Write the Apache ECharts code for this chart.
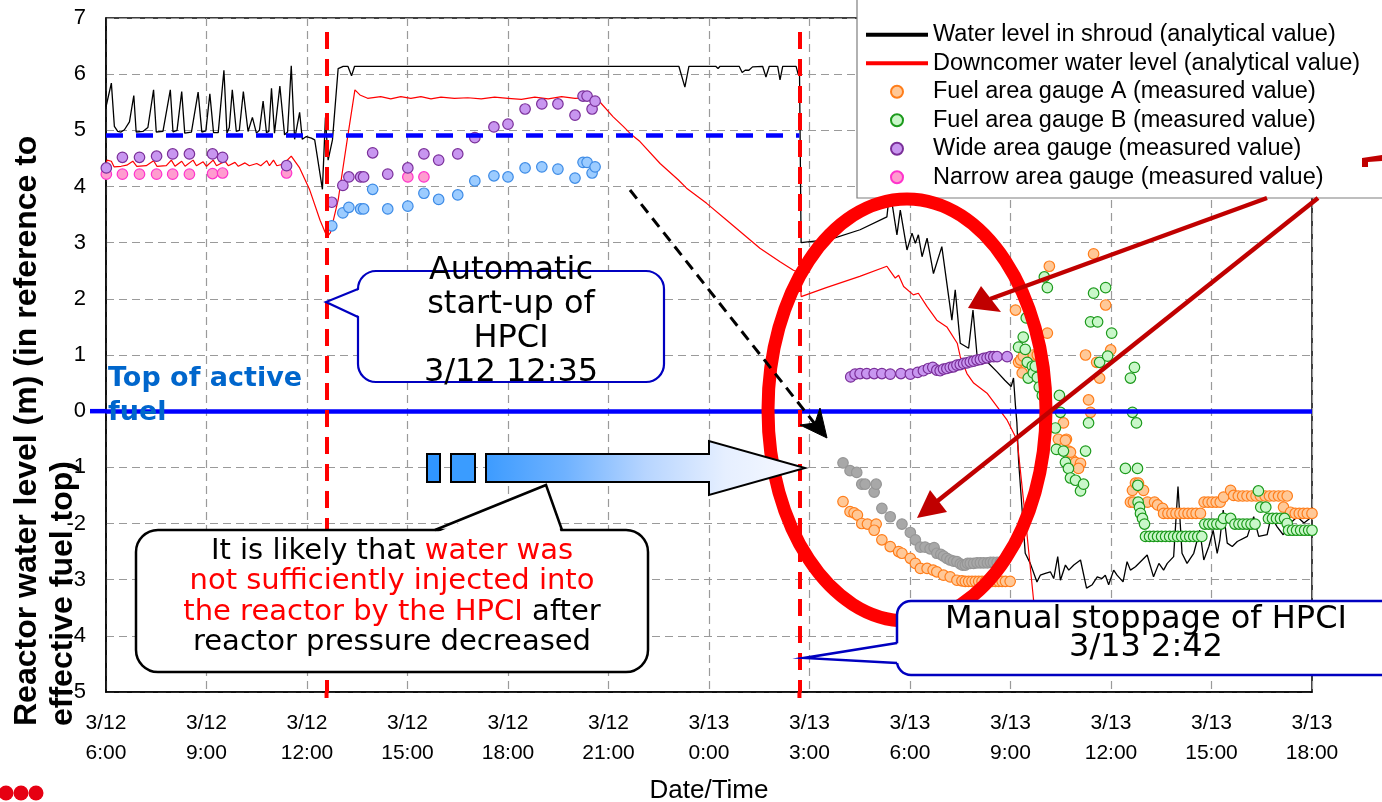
<!DOCTYPE html>
<html>
<head>
<meta charset="utf-8">
<title>Reactor water level, 3/12 6:00 – 3/13 18:00</title>
<script src="https://cdn.jsdelivr.net/npm/echarts@6/dist/echarts.min.js"></script>
<style>
  html, body { margin: 0; padding: 0; background: #ffffff; }
  #chart { width: 1382px; height: 802px; }
</style>
</head>
<body>
<div id="chart"></div>
<script>
// Time is counted in hours from 3/12 0:00; levels are metres above the top of active fuel.

const xTickLabels = [
  '3/12\n6:00', '3/12\n9:00', '3/12\n12:00', '3/12\n15:00', '3/12\n18:00', '3/12\n21:00',
  '3/13\n0:00', '3/13\n3:00', '3/13\n6:00', '3/13\n9:00', '3/13\n12:00', '3/13\n15:00', '3/13\n18:00'
];

const hpciStart = 12 + 35 / 60;      // 3/12 12:35
const hpciStop = 24 + 2 + 42 / 60;   // 3/13 2:42
const tafLevel = 0;                  // top of active fuel
const dashedLevel = 4.92;            // blue dashed reference level

// Water level in shroud (analytical value)
const shroudLevel = [
  [6.0,5.42],[6.16,5.84],[6.25,5.07],[6.35,4.98],[6.45,4.97],[6.55,5.01],[6.7,5.15],[6.83,5.62],[6.9,4.97],
  [7.1,4.98],[7.25,5.05],[7.42,5.72],[7.5,4.97],[7.7,4.98],[7.92,5.72],[8.0,4.97],[8.12,5.0],[8.26,5.69],
  [8.35,4.95],[8.55,4.97],[8.75,5.68],[8.86,4.97],[8.98,4.99],[9.1,5.65],[9.21,4.96],[9.35,4.96],[9.52,6.07],
  [9.61,4.95],[9.68,5.05],[9.77,5.72],[9.89,4.98],[9.98,5.0],[10.1,5.69],[10.24,4.98],[10.37,5.23],[10.49,4.95],
  [10.58,5.0],[10.69,5.52],[10.79,4.96],[10.86,4.98],[10.94,5.75],[11.03,4.95],[11.19,5.79],[11.33,4.92],
  [11.42,4.97],[11.53,6.15],[11.63,4.84],[11.78,5.32],[11.86,4.84],[11.98,4.89],[12.13,4.86],[12.23,4.83],
  [12.46,3.95],[12.55,5.23],[12.63,4.47],[12.76,4.83],[12.93,6.1],[13.08,6.14],[13.22,6.14],[13.33,5.97],
  [13.42,6.14],[23.1,6.14],[23.28,5.77],[23.4,6.14],[24.2,6.14],[24.27,6.1],[24.33,6.14],[24.9,6.14],
  [24.99,6.03],[25.08,6.07],[25.19,6.07],[25.3,6.13],[25.6,6.14],[25.7,5.95],[25.8,6.14],[26.05,6.14],
  [26.12,5.9],[26.2,6.14],[26.6,6.14],[26.66,6.0],[26.7,6.14],[26.73,6.12],[26.75,3.0],[27.62,3.06],
  [28.51,3.23],[29.31,3.46],[29.4,3.95],[29.61,3.14],[29.71,3.58],[29.91,2.87],[30.06,3.17],[30.16,2.99],
  [30.25,3.14],[30.36,2.75],[30.51,3.08],[30.7,2.45],[30.95,2.93],[31.25,1.62],[31.35,2.16],[31.5,1.21],
  [31.75,1.12],[31.88,1.8],[32.0,1.0],[32.3,0.88],[32.6,0.7],[32.83,0.55],[33.02,0.44],[33.09,0.59],
  [33.15,0.08],[33.19,-0.2],[33.24,-0.87],[33.44,-2.53],[33.59,-2.71],[33.79,-3.04],[33.89,-2.92],
  [34.04,-2.89],[34.19,-2.86],[34.29,-2.98],[34.41,-2.59],[34.49,-3.01],[34.64,-2.74],[34.74,-2.83],
  [34.89,-2.74],[35.09,-2.65],[35.27,-3.15],[35.44,-3.09],[35.59,-2.95],[35.73,-2.98],[35.83,-2.92],
  [35.93,-3.09],[36.08,-2.83],[36.18,-2.92],[36.36,-3.04],[36.48,-2.68],[36.58,-2.83],[36.73,-2.77],
  [36.88,-2.68],[37.08,-2.56],[37.27,-2.95],[37.43,-2.71],[37.57,-2.83],[37.68,-2.71],[37.87,-2.59],
  [38.0,-1.34],[38.12,-2.53],[38.27,-2.71],[38.47,-2.53],[38.65,-2.12],[38.77,-2.65],[38.92,-2.41],
  [39.05,-2.12],[39.17,-2.53],[39.25,-2.29],[39.35,-1.76],[39.47,-2.35],[39.62,-2.41],[39.77,-2.32],
  [40.07,-2.23],[40.26,-1.88],[40.41,-2.23],[40.66,-2.2],[40.78,-1.88],[40.96,-2.06],[41.14,-2.2],
  [41.36,-1.99],[41.56,-1.88],[41.76,-1.99],[42.0,-1.88]
];

// Downcomer water level (analytical value)
const downcomerLevel = [
  [6.0,4.4],[6.03,4.47],[6.16,4.45],[6.24,4.35],[6.45,4.36],[6.62,4.38],[6.8,4.45],[6.92,4.36],[7.2,4.37],
  [7.42,4.46],[7.52,4.36],[7.8,4.37],[7.95,4.47],[8.06,4.36],[8.26,4.45],[8.36,4.36],[8.6,4.47],[8.7,4.37],
  [8.9,4.44],[9.0,4.36],[9.2,4.47],[9.3,4.37],[9.55,4.45],[9.65,4.37],[9.85,4.43],[9.95,4.36],[10.15,4.42],
  [10.28,4.37],[10.5,4.41],[10.62,4.37],[10.8,4.46],[10.88,4.37],[11.0,4.47],[11.1,4.37],[11.3,4.4],
  [11.53,4.54],[11.78,4.33],[12.08,3.94],[12.39,3.4],[12.6,3.1],[12.7,3.18],[12.93,3.76],[13.2,4.83],
  [13.43,5.72],[13.58,5.63],[13.81,5.57],[14.2,5.6],[14.5,5.56],[14.8,5.6],[15.1,5.57],[15.4,5.6],
  [15.7,5.56],[16.0,5.59],[16.4,5.57],[16.8,5.58],[17.2,5.56],[17.6,5.59],[18.0,5.57],[18.4,5.55],
  [18.8,5.59],[19.2,5.56],[19.6,5.6],[20.0,5.57],[20.4,5.58],[20.69,5.54],[21.14,5.24],[21.44,5.07],
  [21.69,4.92],[21.94,4.8],[22.54,4.41],[23.08,4.12],[23.33,3.97],[23.93,3.7],[24.53,3.4],[25.52,2.9],
  [26.12,2.66],[26.52,2.51],[26.72,2.46],[26.75,2.04],[27.5,2.2],[28.5,2.4],[29.31,2.58],[29.39,2.51],
  [29.56,2.37],[29.66,2.42],[29.81,2.22],[30.1,2.07],[30.25,2.1],[30.51,1.86],[30.8,1.62],[31.1,1.5],
  [31.41,1.21],[31.5,0.97],[31.7,0.67],[31.9,0.5],[32.3,0.32],[32.6,0.08],[32.9,-0.16],[33.09,-0.39],
  [33.2,-0.52],[33.44,-1.88],[33.69,-3.37],[33.95,-4.2]
];

// Fuel area gauge A (measured value)
const fuelGaugeA = [
  [28.0,-1.61],[28.21,-1.79],[28.33,-1.81],[28.43,-1.85],[28.56,-2.0],[28.73,-2.01],[28.99,-2.01],
  [28.93,-2.12],[29.16,-2.29],[29.41,-2.41],[29.66,-2.5],[29.76,-2.53],[30.01,-2.62],[30.16,-2.71],
  [30.31,-2.8],[30.51,-2.8],[30.69,-2.83],[30.8,-2.86],[31.0,-2.92],[31.2,-2.95],[31.4,-3.01],[31.55,-3.02],
  [31.65,-3.03],[31.75,-3.03],[31.85,-3.03],[31.95,-3.03],[32.05,-3.03],[32.15,-3.03],[32.25,-3.03],
  [32.35,-3.03],[32.45,-3.03],[32.55,-3.03],[32.65,-3.03],[32.75,-3.03],[32.85,-3.03],[32.99,-3.03],
  [33.15,1.8],[33.24,0.87],[33.3,0.91],[33.35,0.68],[33.38,0.98],[33.68,1.0],[33.8,1.0],[34.1,1.39],
  [34.16,2.58],[34.43,-0.5],[34.58,-0.21],[34.67,-0.5],[34.73,-0.71],[34.85,-0.87],[34.64,-0.52],
  [34.79,-0.73],[34.94,-0.91],[35.09,-0.93],[35.03,-1.02],[35.24,1.0],[35.33,0.2],[35.39,-0.02],
  [35.48,2.8],[35.57,0.87],[35.66,0.59],[35.84,1.89],[35.99,1.09],
  [36.58,-1.62],[36.64,-1.41],[36.67,-1.62],[36.73,-1.28],[36.82,-1.28],[36.97,-1.41],[37.09,-1.62],
  [37.3,-1.62],[37.39,-1.67],[37.54,-1.73],[37.57,-1.82],[37.7,-1.82],[37.82,-1.82],[37.94,-1.82],
  [38.06,-1.82],[38.18,-1.82],[38.3,-1.82],[38.42,-1.82],[38.54,-1.82],[38.67,-1.82],[38.78,-1.62],
  [38.9,-1.62],[39.02,-1.62],[39.14,-1.62],[39.26,-1.62],[39.36,-1.53],[39.57,-1.41],[39.66,-1.5],
  [39.8,-1.51],[39.93,-1.51],[40.06,-1.51],[40.2,-1.51],[40.33,-1.51],[40.46,-1.51],[40.6,-1.51],
  [40.73,-1.51],[40.86,-1.51],[41.0,-1.51],[41.13,-1.51],[41.26,-1.51],[41.15,-1.71],[41.36,-1.8],
  [41.5,-1.82],[41.62,-1.82],[41.74,-1.82],[41.86,-1.82],[42.0,-1.82]
];

// Fuel area gauge B (measured value)
const fuelGaugeB = [
  [33.24,1.14],[33.38,1.32],[33.44,1.1],[33.47,1.66],[33.5,0.87],[33.53,0.59],[33.65,0.8],[33.68,0.68],
  [33.74,0.8],[33.8,0.6],[33.86,0.43],[33.95,0.28],[34.01,2.39],[34.1,2.2],[34.34,-0.3],[34.37,-0.68],
  [34.46,0.28],[34.49,-0.02],[34.58,-0.71],[34.64,-0.91],[34.73,-1.02],[34.79,-1.19],[34.94,-1.23],
  [35.09,-1.42],[35.18,-1.3],[35.24,-0.71],[35.33,-0.21],[35.39,1.59],[35.48,2.1],[35.6,1.59],
  [35.66,0.87],[35.84,2.2],[35.9,0.98],[36.02,1.39],[36.43,-1.02],[36.58,0.59],[36.64,-0.02],[36.7,0.78],
  [36.76,-0.21],[36.79,-1.02],[36.8,-1.32],[36.81,-1.62],[36.85,-1.71],[36.88,-1.82],[36.94,-1.91],
  [37.0,-2.01],[37.03,-2.23],[37.15,-2.23],[37.27,-2.23],[37.39,-2.23],[37.51,-2.23],[37.63,-2.23],
  [37.75,-2.23],[37.87,-2.23],[37.99,-2.23],[38.11,-2.23],[38.23,-2.23],[38.35,-2.23],[38.47,-2.23],
  [38.59,-2.23],[38.71,-2.23],[38.8,-2.01],[38.92,-2.01],[39.04,-2.01],[39.16,-2.01],[39.28,-2.01],
  [39.36,-1.91],[39.57,-1.91],[39.7,-2.01],[39.82,-2.01],[39.94,-2.01],[40.06,-2.01],[40.18,-2.01],
  [40.3,-2.01],[40.4,-1.42],[40.47,-1.71],[40.62,-1.71],[40.7,-1.91],[40.82,-1.91],[40.94,-1.91],
  [41.06,-1.91],[41.18,-1.91],[41.26,-2.0],[41.3,-2.12],[41.42,-2.12],[41.54,-2.12],[41.66,-2.12],
  [41.78,-2.12],[41.9,-2.12],[42.0,-2.12]
];

// Wide area gauge (measured value)
const wideGauge = [
  [6.01,4.33],[6.49,4.52],[7.0,4.52],[7.51,4.54],[7.99,4.58],[8.49,4.58],[9.18,4.58],[9.48,4.52],[11.39,4.37],
  [12.74,3.72],[13.07,4.02],[13.25,4.17],[13.6,4.17],[13.69,4.17],[13.96,4.6],[14.41,4.22],[15.01,4.33],
  [15.49,4.58],[15.93,4.47],[16.5,4.58],[17.01,4.87],[17.58,5.06],[18.0,5.11],[18.51,5.38],[19.01,5.47],
  [19.49,5.47],[20.0,5.27],[20.24,5.61],[20.36,5.61],[20.51,5.38],[20.6,5.52],
  [28.23,0.61],[28.36,0.66],[28.51,0.67],[28.71,0.67],[28.93,0.67],[29.16,0.67],[29.41,0.66],[29.73,0.67],
  [30.01,0.66],[30.23,0.69],[30.4,0.72],[30.55,0.76],[30.68,0.78],[30.8,0.73],[30.9,0.72],[31.0,0.75],
  [31.1,0.76],[31.2,0.78],[31.3,0.79],[31.4,0.82],[31.5,0.83],[31.6,0.85],[31.7,0.86],[31.8,0.88],
  [31.9,0.89],[32.0,0.91],[32.1,0.92],[32.2,0.94],[32.3,0.95],[32.4,0.97],[32.5,0.97],[32.6,0.97],[32.9,0.97]
];

// Narrow area gauge (measured value)
const narrowGauge = [
  [6.01,4.22],[6.49,4.22],[7.0,4.22],[7.51,4.22],[7.99,4.22],[8.49,4.22],[9.18,4.23],[9.48,4.24],
  [11.39,4.24],[15.01,4.17],[15.49,4.17]
];

// Second wide-range reading (light blue points, 3/12 afternoon)
const wideGaugeB = [
  [12.74,3.3],[13.07,3.53],[13.25,3.63],[13.6,3.6],[13.69,3.6],[13.96,3.95],[14.41,3.6],[15.01,3.65],
  [15.49,3.88],[15.93,3.77],[16.5,3.85],[17.01,4.1],[17.58,4.19],[18.0,4.17],[18.51,4.33],[19.01,4.35],
  [19.49,4.31],[20.0,4.15],[20.24,4.43],[20.36,4.43],[20.51,4.24],[20.6,4.35]
];

// Corrected fuel-range reading (grey points, 3/13 morning)
const fuelGaugeCorrected = [
  [28.0,-0.92],[28.21,-1.06],[28.41,-1.09],[28.56,-1.3],[28.66,-1.3],[28.93,-1.44],[28.99,-1.3],[29.16,-1.73],
  [29.41,-1.88],[29.76,-2.01],[30.01,-2.16],[30.16,-2.29],[30.31,-2.42],[30.45,-2.42],[30.6,-2.45],
  [30.72,-2.43],[30.8,-2.53],[30.92,-2.55],[31.0,-2.58],[31.1,-2.62],[31.2,-2.65],[31.3,-2.67],[31.4,-2.68],
  [31.5,-2.72],[31.57,-2.74],[31.65,-2.74],[31.72,-2.71],[31.8,-2.71],[31.9,-2.71],[32.0,-2.7],[32.1,-2.7],
  [32.2,-2.7],[32.31,-2.7],[32.4,-2.69],[32.49,-2.69],[32.6,-2.69],[32.7,-2.69]
];

const names = {
  shroud: 'Water level in shroud (analytical value)',
  downcomer: 'Downcomer water level (analytical value)',
  fuelA: 'Fuel area gauge A (measured value)',
  fuelB: 'Fuel area gauge B (measured value)',
  wide: 'Wide area gauge (measured value)',
  narrow: 'Narrow area gauge (measured value)',
  wideB: 'Wide area gauge, second reading',
  fuelCorr: 'Fuel area gauge, corrected'
};

const baseFont = "'Liberation Sans', Arial, Helvetica, sans-serif";
const annFont = "'DejaVu Sans', Verdana, sans-serif";

const dashGrid = { color: '#9a9a9a', width: 1.2, type: [8, 5] };

function scatterSeries(name, data, fill, border) {
  return {
    name, type: 'scatter', data, symbol: 'circle', symbolSize: 10.5, z: 3,
    itemStyle: { color: fill, borderColor: border, borderWidth: 1.2, opacity: 1 },
    emphasis: { disabled: true }, silent: true
  };
}

const blueCallout = '#0000c0';

const annotations = [
  // legend frame
  { type: 'rect', z: 9, silent: true, shape: { x: 857, y: -10, width: 540, height: 208 },
    style: { fill: '#ffffff', stroke: '#7f7f7f', lineWidth: 1.2 } },

  // vertical axis title, reading bottom to top
  { type: 'text', z: 12, x: 27, y: 726, rotation: Math.PI / 2,
    style: { text: 'Reactor water level (m) (in reference to', fontFamily: baseFont, fontSize: 32, fontWeight: 'bold',
      fill: '#000', align: 'left', verticalAlign: 'middle' } },
  { type: 'text', z: 12, x: 63, y: 726, rotation: Math.PI / 2,
    style: { text: 'effective fuel top)', fontFamily: baseFont, fontSize: 32, fontWeight: 'bold',
      fill: '#000', align: 'left', verticalAlign: 'middle' } },

  // top of active fuel label
  { type: 'text', z: 12, x: 108, y: 396,
    style: { text: 'Top of active\nfuel', fontFamily: annFont, fontSize: 27, fontWeight: 'bold', lineHeight: 34,
      fill: '#0066cc', align: 'left', verticalAlign: 'middle' } },

  // callout: automatic start-up of HPCI
  { type: 'rect', z: 12, shape: { x: 358, y: 271, width: 306, height: 111, r: 18 },
    style: { fill: '#ffffff', stroke: blueCallout, lineWidth: 2.2 } },
  { type: 'polygon', z: 12, shape: { points: [[361, 289], [326, 302], [361, 317]] },
    style: { fill: '#ffffff', stroke: null } },
  { type: 'polyline', z: 12, shape: { points: [[358, 289], [326, 302], [358, 317]] },
    style: { fill: null, stroke: blueCallout, lineWidth: 2.2 } },
  { type: 'text', z: 13, x: 511, y: 322,
    style: { text: 'Automatic\nstart-up of\nHPCI\n3/12 12:35', fontFamily: annFont, fontSize: 32, lineHeight: 34,
      fill: '#000', align: 'center', verticalAlign: 'middle' } },

  // black dashed arrow towards the stoppage time
  { type: 'line', z: 12, shape: { x1: 630, y1: 190, x2: 815, y2: 424 },
    style: { stroke: '#000', lineWidth: 3, lineDash: [11, 7] } },
  { type: 'polygon', z: 12, shape: { points: [[827, 438], [800, 425], [815, 423], [820, 408]] },
    style: { fill: '#000', stroke: '#000', lineWidth: 1 } },

  // shaded block arrow
  { type: 'rect', z: 12, shape: { x: 427, y: 454, width: 13, height: 28 },
    style: { fill: '#2f95ff', stroke: '#000', lineWidth: 2 } },
  { type: 'rect', z: 12, shape: { x: 451, y: 454, width: 24, height: 28 },
    style: { fill: '#3a9cff', stroke: '#000', lineWidth: 2 } },
  { type: 'polygon', z: 12,
    shape: { points: [[486, 454], [709, 454], [709, 441], [805, 468], [709, 495], [709, 482], [486, 482]] },
    style: {
      fill: new echarts.graphic.LinearGradient(0, 0, 1, 0, [
        { offset: 0, color: '#3c9bff' }, { offset: 0.25, color: '#6fb2ff' },
        { offset: 0.5, color: '#b7d5ff' }, { offset: 0.75, color: '#e6efff' }, { offset: 1, color: '#f7f9ff' }
      ]),
      stroke: '#000', lineWidth: 2
    } },

  // callout: insufficient injection
  { type: 'rect', z: 12, shape: { x: 136, y: 530, width: 512, height: 142, r: 22 },
    style: { fill: '#ffffff', stroke: '#000', lineWidth: 2.5 } },
  { type: 'polygon', z: 12, shape: { points: [[436, 533], [546, 485], [561, 533]] },
    style: { fill: '#ffffff', stroke: null } },
  { type: 'polyline', z: 12, shape: { points: [[435, 530], [546, 485], [562, 530]] },
    style: { fill: null, stroke: '#000', lineWidth: 2.5 } },
  { type: 'text', z: 13, x: 392, y: 597,
    style: {
      text: 'It is likely that {r|water was}\n{r|not sufficiently injected into}\n{r|the reactor by the HPCI} after\nreactor pressure decreased',
      rich: { r: { fill: '#ff0000', fontFamily: annFont, fontSize: 29, lineHeight: 30.5 } },
      fontFamily: annFont, fontSize: 29, lineHeight: 30.5, fill: '#000', align: 'center', verticalAlign: 'middle'
    } },

  // callout: manual stoppage of HPCI
  { type: 'rect', z: 12, shape: { x: 897, y: 601, width: 520, height: 74, r: 14 },
    style: { fill: '#ffffff', stroke: blueCallout, lineWidth: 2.5 } },
  { type: 'polygon', z: 12, shape: { points: [[900, 643], [804, 658], [900, 663]] },
    style: { fill: '#ffffff', stroke: null } },
  { type: 'polyline', z: 12, shape: { points: [[897, 643], [804, 658], [897, 663]] },
    style: { fill: null, stroke: blueCallout, lineWidth: 2.5 } },
  { type: 'text', z: 13, x: 1146, y: 634,
    style: { text: 'Manual stoppage of HPCI\n3/13 2:42', fontFamily: annFont, fontSize: 32, lineHeight: 28,
      fill: '#000', align: 'center', verticalAlign: 'middle' } },

  // red ellipse around the 3/13 morning readings
  { type: 'ellipse', z: 11, silent: true, shape: { cx: 907, cy: 410, rx: 139, ry: 211 },
    style: { fill: null, stroke: '#ff0000', lineWidth: 13 } },

  // dark red pointer arrows
  { type: 'line', z: 12, shape: { x1: 1267, y1: 198, x2: 990, y2: 299 },
    style: { stroke: '#c00000', lineWidth: 4.5 } },
  { type: 'polygon', z: 12, shape: { points: [[968, 308], [981, 286], [1001, 312]] },
    style: { fill: '#c00000' } },
  { type: 'line', z: 12, shape: { x1: 1318, y1: 198, x2: 935, y2: 503 },
    style: { stroke: '#c00000', lineWidth: 4.5 } },
  { type: 'polygon', z: 12, shape: { points: [[917, 518], [930, 490], [947, 512]] },
    style: { fill: '#c00000' } },
  { type: 'polygon', z: 12, shape: { points: [[1362, 158], [1382, 155], [1382, 161], [1368, 162], [1368, 167], [1362, 167]] },
    style: { fill: '#c00000' } },

  // corner mark
  { type: 'circle', z: 12, shape: { cx: 6, cy: 793, r: 7.5 }, style: { fill: '#e60012' } },
  { type: 'circle', z: 12, shape: { cx: 21, cy: 793, r: 7.5 }, style: { fill: '#e60012' } },
  { type: 'circle', z: 12, shape: { cx: 36, cy: 793, r: 7.5 }, style: { fill: '#e60012' } }
];

// Line entries in the legend are drawn as a thick bar, without a marker.
const lineLegendItem = name => ({ name, icon: 'path://M0,0L62,0L62,4L0,4Z' });

const option = {
  animation: false,
  backgroundColor: '#ffffff',
  textStyle: { fontFamily: baseFont },
  grid: {
    left: 106, right: 70, top: 18, bottom: 110,
    show: true, borderColor: '#000', borderWidth: 1.5,
    containLabel: false, outerBoundsMode: 'none'
  },
  legend: {
    orient: 'vertical', left: 866, top: 20.5, padding: 0, itemGap: 0,
    itemWidth: 62, itemHeight: 12, z: 10, selectedMode: false, symbolKeepAspect: true,
    textStyle: { fontFamily: baseFont, fontSize: 23.5, lineHeight: 28.5, color: '#000' },
    data: [lineLegendItem(names.shroud), lineLegendItem(names.downcomer),
      names.fuelA, names.fuelB, names.wide, names.narrow]
  },
  xAxis: {
    type: 'value', min: 6, max: 42, interval: 3,
    axisLine: { show: true, onZero: false, lineStyle: { color: '#000', width: 1.5 } },
    axisTick: { show: false },
    axisLabel: {
      formatter: v => xTickLabels[Math.round((v - 6) / 3)],
      fontFamily: baseFont, fontSize: 21, lineHeight: 30, margin: 16, color: '#000',
      showMinLabel: true, showMaxLabel: true
    },
    splitLine: { show: true, lineStyle: dashGrid },
    name: 'Date/Time', nameLocation: 'middle', nameGap: 86,
    nameTextStyle: { fontFamily: baseFont, fontSize: 26, color: '#000' }
  },
  yAxis: {
    type: 'value', min: -5, max: 7, interval: 1,
    axisLine: { show: true, onZero: false, lineStyle: { color: '#000', width: 1.5 } },
    axisTick: { show: false },
    axisLabel: { fontFamily: baseFont, fontSize: 22, margin: 20, color: '#000' },
    splitLine: { show: true, lineStyle: dashGrid }
  },
  series: [
    {
      name: names.shroud, type: 'line', data: shroudLevel, symbol: 'none', z: 2, silent: true,
      lineStyle: { color: '#000000', width: 1.3 }, itemStyle: { color: '#000000' }
    },
    {
      name: names.downcomer, type: 'line', data: downcomerLevel, symbol: 'none', z: 2, silent: true,
      lineStyle: { color: '#ff0000', width: 1.2 }, itemStyle: { color: '#ff0000' },
      markLine: {
        silent: true, symbol: ['none', 'none'], label: { show: false }, animation: false,
        data: [
          [{ coord: [6, dashedLevel], lineStyle: { color: '#0000ff', width: 4.5, type: [17, 13] } },
           { coord: [hpciStop, dashedLevel], lineStyle: { color: '#0000ff', width: 4.5, type: [17, 13] } }],
          [{ coord: [6, tafLevel], lineStyle: { color: '#0000ff', width: 4.5, type: 'solid' } },
           { coord: [42, tafLevel], lineStyle: { color: '#0000ff', width: 4.5, type: 'solid' } }],
          [{ coord: [hpciStart, 6.75], lineStyle: { color: '#ff0000', width: 4, type: [17, 10] } },
           { coord: [hpciStart, -5], lineStyle: { color: '#ff0000', width: 4, type: [17, 10] } }],
          [{ coord: [hpciStop, 6.75], lineStyle: { color: '#ff0000', width: 4, type: [17, 10] } },
           { coord: [hpciStop, -5], lineStyle: { color: '#ff0000', width: 4, type: [17, 10] } }]
        ]
      }
    },
    scatterSeries(names.narrow, narrowGauge, '#ff9ccf', '#ff33cc'),
    scatterSeries(names.wide, wideGauge, '#c896f0', '#7a2f99'),
    scatterSeries(names.wideB, wideGaugeB, '#9cccff', '#3d8be6'),
    scatterSeries(names.fuelCorr, fuelGaugeCorrected, '#a8a8a8', '#969696'),
    scatterSeries(names.fuelA, fuelGaugeA, '#ffc897', '#ff7d1a'),
    scatterSeries(names.fuelB, fuelGaugeB, '#c9f7c9', '#1c9a1c')
  ],
  graphic: annotations
};

const chart = echarts.init(document.getElementById('chart'), null, { renderer: 'canvas' });
chart.setOption(option);

// Short extensions of the reference lines beyond the plot frame.
const tafPx = chart.convertToPixel({ xAxisIndex: 0, yAxisIndex: 0 }, [6, tafLevel]);
const startPx = chart.convertToPixel({ xAxisIndex: 0, yAxisIndex: 0 }, [hpciStart, -5]);
const stopPx = chart.convertToPixel({ xAxisIndex: 0, yAxisIndex: 0 }, [hpciStop, -5]);
option.graphic = annotations.concat([
  { type: 'line', z: 3, shape: { x1: tafPx[0] - 16, y1: tafPx[1], x2: tafPx[0], y2: tafPx[1] },
    style: { stroke: '#0000ff', lineWidth: 4.5 } },
  { type: 'line', z: 3, shape: { x1: startPx[0], y1: startPx[1], x2: startPx[0], y2: startPx[1] + 6 },
    style: { stroke: '#ff0000', lineWidth: 4 } },
  { type: 'line', z: 3, shape: { x1: stopPx[0], y1: stopPx[1], x2: stopPx[0], y2: stopPx[1] + 6 },
    style: { stroke: '#ff0000', lineWidth: 4 } }
]);
chart.setOption(option, true);
</script>
</body>
</html>
